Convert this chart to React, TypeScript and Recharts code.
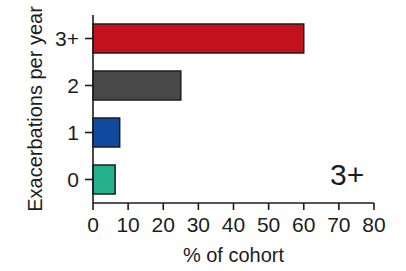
import { BarChart, Bar, XAxis, YAxis, Cell, Label } from 'recharts';

const categories = ['3+', '2', '1', '0'];
const cohortPct = [60, 25, 7.6, 6.3];
const barColors = ['#c3121e', '#484848', '#0f4a9e', '#25b08e'];
const xTicks = [0, 10, 20, 30, 40, 50, 60, 70, 80];

const data = categories.map((cat, i) => ({ cat, pct: cohortPct[i] }));

const FONT = '"Liberation Sans", Arial, sans-serif';
const INK = '#1c1c1c';

export default function App() {
  return (
    <div style={{ position: 'absolute', left: 0, top: 0, width: 406, height: 271, background: '#fff', fontFamily: FONT }}>
      <style>{`body{margin:0}`}</style>
      <BarChart
        width={406}
        height={271}
        data={data}
        layout="vertical"
        margin={{ top: 15, right: 32, bottom: 0, left: 0 }}
      >
        <XAxis
          type="number"
          domain={[0, 80]}
          ticks={xTicks}
          height={68}
          tickSize={7}
          tickMargin={7}
          stroke={INK}
          strokeWidth={1.6}
          tick={{ fill: INK, fontSize: 21, fontFamily: FONT }}
        >
          <Label value="% of cohort" position="insideBottom" offset={9} fill={INK} fontSize={20} fontFamily={FONT} />
        </XAxis>
        <YAxis
          type="category"
          dataKey="cat"
          width={93}
          tickSize={8}
          tickMargin={6}
          stroke={INK}
          strokeWidth={1.6}
          tick={{ fill: INK, fontSize: 21, fontFamily: FONT }}
          label={{
            content: (props: any) => {
              const vb = props.viewBox;
              const cx = vb.x + 35;
              const cy = vb.y + vb.height / 2;
              return (
                <text x={cx} y={cy} transform={`rotate(-90 ${cx} ${cy})`} textAnchor="middle" dominantBaseline="central" fill={INK} fontSize={20} fontFamily={FONT}>
                  Exacerbations per year
                </text>
              );
            },
          }}
        />
        <Bar dataKey="pct" barSize={29} stroke={INK} strokeWidth={1.5} isAnimationActive={false}>
          {data.map((d, i) => (
            <Cell key={d.cat} fill={barColors[i]} />
          ))}
        </Bar>
      </BarChart>
      <div style={{ position: 'absolute', left: 330, top: 160, fontSize: 30, lineHeight: '30px', color: INK }}>3+</div>
    </div>
  );
}
